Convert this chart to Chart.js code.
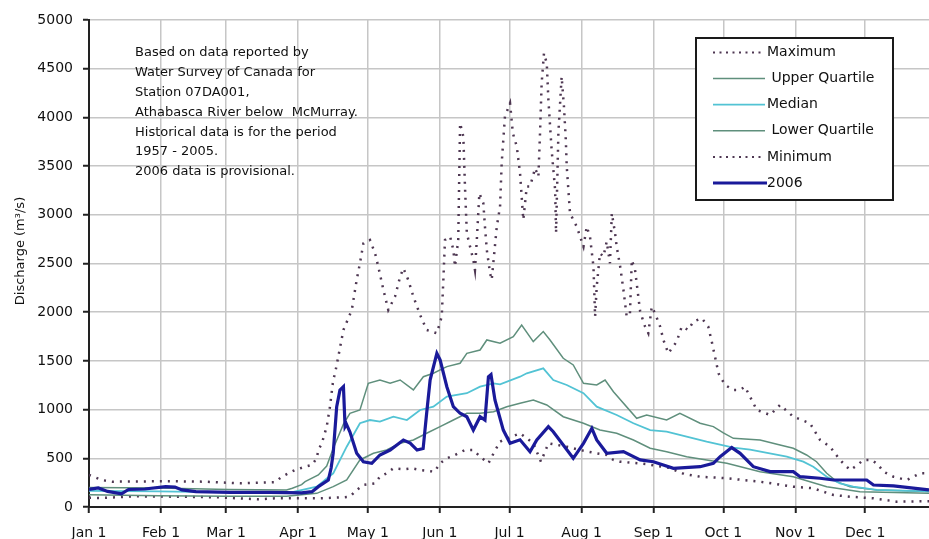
<!DOCTYPE html>
<html>
<head>
<meta charset="utf-8">
<script src="https://cdn.jsdelivr.net/npm/chart.js@4.4.1/dist/chart.umd.min.js"></script>
<style>
html,body{margin:0;padding:0;background:#fff;}
#wrap{width:929px;height:539px;position:relative;}
</style>
</head>
<body>
<div id="wrap"><canvas id="c" width="929" height="539"></canvas></div>
<script>
// ---- Axis ticks (day of year, 0 = Jan 1) ----
const monthStarts = [0,31,59,90,120,151,181,212,243,273,304,334];
const monthLabels = ['Jan 1','Feb 1','Mar 1','Apr 1','May 1','Jun 1','Jul 1','Aug 1','Sep 1','Oct 1','Nov 1','Dec 1'];
const yTitle = 'Discharge (m\u00B3/s)';
const noteLines = [
  'Based on data reported by',
  'Water Survey of Canada for',
  'Station 07DA001,',
  'Athabasca River below  McMurray.',
  'Historical data is for the period',
  '1957 - 2005.',
  '2006 data is provisional.'
];
const seriesNames = ['Maximum','Upper Quartile','Median','Lower Quartile','Minimum','2006'];

// ---- Series: Maximum ----
const maxDays = [0,5.5,10,35,50,65,80,83,85.8,88.7,93,95.9,98,98.7,100.2,102.3,103.7,105.1,105.9,109.5,113.1,115.2,116.6,118.1,120.9,123.1,124.5,126.7,128.8,131.7,133.9,135.3,137.4,139.6,142.5,145.3,149.7,151.8,152.5,153.2,155.4,156.8,157.5,158.9,159.7,161.1,161.8,162.6,164,165.4,166.1,166.9,168,169.7,170.4,171.2,172.6,173.3,175.5,176.9,177.6,179,181.2,182.4,184.1,185.5,186.9,188.4,189.8,192,193.4,194.1,194.8,195.8,197,197.7,199.1,200.6,201,202,203.4,204.4,205.2,205.6,207,209.9,212.8,214.2,215.6,217.1,217.8,218.5,219.9,221.4,222.8,224.2,225,226.4,227.1,228.6,230,231.4,232.8,233.6,235,236.4,237.2,239.3,240.7,242.2,243.6,245.8,247.2,249.3,252.9,255.1,257.9,260.1,263.7,266.5,268,269.4,270.9,273.7,277.3,280.2,282.3,287.4,293.1,297.4,303.1,310.3,314.6,318.9,323.2,327.5,329.7,333.3,336.9,339.7,341.9,346.2,351.9,357.7,361.5];
const maxVals = [330,277,260,265,260,243,255,311,346,380,414,431,500,585,654,825,1030,1304,1373,1818,2023,2331,2503,2708,2742,2605,2468,2229,2023,2160,2365,2451,2331,2160,1972,1818,1784,1955,2331,2742,2776,2639,2468,2742,3941,3803,3290,2811,2673,2537,2434,2742,3222,3119,2879,2639,2400,2331,2879,3084,3529,4009,4146,3838,3701,3427,2948,3290,3290,3478,3392,3838,4351,4659,4556,4180,3666,3255,2814,3838,4419,4111,3769,3495,3016,2879,2673,2879,2776,2468,1955,2262,2605,2571,2725,2503,3016,2811,2673,2468,2229,1955,1989,2537,2434,2160,2006,1852,1784,2057,1989,1852,1715,1578,1698,1852,1818,1903,1938,1852,1698,1544,1373,1253,1202,1202,1235,996,945,1048,927,860,688,619,483,380,414,483,483,431,363,311,277,346,346];

// ---- Series: Upper Quartile ----
const uqDays = [0,30,60,85,87.5,91.5,93,98.7,102.3,105.1,109.5,112.3,116.6,120.2,125.2,129.6,133.9,139.6,143.9,148.2,154,159.7,162.6,168.3,171.2,176.9,182.6,186.2,191.2,195.5,198.4,204.1,208.4,212.8,218.5,222.1,225.7,235.7,240,248.6,254.3,263,268.7,273,277.3,288.8,297.4,303.1,308.8,313.1,317.5,321.8,327.5,339,361.5];
const uqVals = [200,195,180,175,192,230,260,329,420,600,850,962,996,1270,1304,1270,1304,1202,1338,1373,1441,1476,1578,1612,1715,1681,1749,1869,1698,1801,1715,1527,1458,1270,1253,1304,1184,911,945,893,962,860,825,760,705,688,637,603,534,465,346,260,209,175,160];

// ---- Series: Median ----
const medDays = [0,30,60,88,98,105.1,110.9,116.6,120.9,125.2,131,136.8,142.5,148.2,154,162.6,168.3,174.1,176.9,185.5,188.4,195.5,199.8,205.6,212.8,218.5,227.1,234.3,241.5,248.6,257.2,265.8,277.3,284.5,300.3,307.4,311.7,317.5,323.2,328.9,339,361.5];
const medVals = [165,160,150,155,209,346,619,860,893,877,927,893,996,1030,1133,1168,1235,1270,1260,1338,1373,1424,1304,1253,1168,1030,945,860,790,773,722,671,610,590,517,465,414,311,243,209,175,160];

// ---- Series: Lower Quartile ----
const lqDays = [0,30,60,85,98,105.1,110.9,116.6,122.4,128.1,133.9,139.6,145.3,151.1,156.8,162.6,168.3,174.1,179.8,185.5,191.2,197,204.1,212.8,219.9,227.1,234.3,241.5,248.6,257.2,265.8,274.5,288.8,303.1,317.5,331.8,361.5];
const lqVals = [125,115,110,110,140,209,277,483,551,585,654,688,757,825,893,962,962,979,1030,1065,1099,1048,927,860,790,757,688,603,568,517,483,449,363,311,209,157,140];

// ---- Series: Minimum ----
const minDays = [0,5.5,20,37,55,73,80,98.7,109.5,112.3,115.2,118.1,123.1,125.2,128.1,131,135.3,138.9,142.5,148.7,151.1,154,157.5,161.8,165.4,168.3,171.9,174.1,176.9,178.3,185.5,191.2,194.5,197.7,205.6,211.3,218.5,222.8,225.7,228.6,240,250,256,263,274.5,281.6,288.8,303.1,311.7,320.4,327.5,337.6,347.6,361.5];
const minVals = [95,92,110,106,100,79,89,89,99,106,175,226,243,311,346,397,387,397,380,363,449,500,534,585,585,517,449,551,671,688,757,654,465,654,619,585,551,534,483,465,440,400,340,311,295,277,260,209,192,123,106,89,55,60];

// ---- Series: 2006 ----
const y2006Days = [0,4,8,14,17,24,33,37,40,46,61,78,91.5,96,98.7,103,104.2,105.1,106.6,108,109.5,110.2,110.8,112.3,115.2,118.1,121.7,125.2,129.6,135.3,138.2,141.2,143.8,145.3,146.8,149.7,151.1,154,156.8,159.7,162.6,165.4,168.3,170.4,171.9,173,174.7,178.3,181.2,185.5,189.8,192.7,197.7,199.8,208.4,212.8,216.4,218.5,222.8,230,237.2,242.9,251.5,263,268.7,271.6,276.6,280.2,285.9,293.1,303.1,306,314.6,320.4,334.7,337.6,346.2,361.5];
const y2006Vals = [180,195,160,135,180,185,210,205,175,157,150,150,145,157,209,277,400,553,1030,1200,1235,825,850,770,553,465,449,534,585,688,657,585,600,960,1304,1578,1510,1235,1030,962,927,790,927,893,1338,1360,1099,790,654,690,568,688,825,773,500,654,808,688,551,568,483,465,397,414,449,517,610,551,414,363,363,311,295,277,277,226,216,175];

const yTicks = [0,500,1000,1500,2000,2500,3000,3500,4000,4500,5000];

function pts(days, vals){ return days.map((d,i)=>({x:d,y:vals[i]})); }

const COL_DOT = '#4e3752';
const COL_Q = '#5f8f7c';
const COL_MED = '#52c3d4';
const COL_2006 = '#1a1a9a';
const FONT = '"DejaVu Sans", sans-serif';

const styles = [
  {color:COL_DOT, width:2.5, dash:[2,6], legendDash:[2,4.5]},
  {color:COL_Q, width:1.5, dash:[], legendDash:[]},
  {color:COL_MED, width:1.8, dash:[], legendDash:[]},
  {color:COL_Q, width:1.5, dash:[], legendDash:[]},
  {color:COL_DOT, width:2.5, dash:[2,6], legendDash:[2,4.5]},
  {color:COL_2006, width:3.2, dash:[], legendDash:[]}
];
const seriesData = [
  pts(maxDays,maxVals), pts(uqDays,uqVals), pts(medDays,medVals),
  pts(lqDays,lqVals), pts(minDays,minVals), pts(y2006Days,y2006Vals)
];

const datasets = seriesNames.map((n,i)=>({
  label:n,
  data:seriesData[i],
  borderColor:styles[i].color,
  borderWidth:styles[i].width,
  borderDash:styles[i].dash,
  pointRadius:0,
  tension:0,
  fill:false,
  order: n==='2006' ? 0 : (i===2 ? 1 : 2)
}));

const overlay = {
  id:'overlay',
  afterDraw(chart){
    const ctx = chart.ctx;
    // y axis title
    ctx.save();
    ctx.fillStyle = '#111';
    ctx.font = '13px ' + FONT;
    ctx.translate(21, 251);
    ctx.rotate(-Math.PI/2);
    ctx.textAlign = 'center';
    ctx.textBaseline = 'middle';
    ctx.fillText(yTitle, 0, 0);
    ctx.restore();

    // note text
    ctx.save();
    ctx.fillStyle = '#111';
    ctx.font = '13px ' + FONT;
    ctx.textAlign = 'left';
    ctx.textBaseline = 'middle';
    noteLines.forEach((t,i)=>ctx.fillText(t, 135, 53 + i*19.8));
    ctx.restore();

    // legend box
    ctx.save();
    ctx.fillStyle = '#fff';
    ctx.fillRect(696, 38, 197, 162);
    ctx.strokeStyle = '#1a1a1a';
    ctx.lineWidth = 2;
    ctx.strokeRect(696, 38, 197, 162);
    ctx.font = '14px ' + FONT;
    ctx.textBaseline = 'middle';
    ctx.textAlign = 'left';
    seriesNames.forEach((n,i)=>{
      const y = 52.5 + i*26.1;
      const s = styles[i];
      ctx.beginPath();
      ctx.strokeStyle = s.color;
      ctx.lineWidth = s.legendDash.length ? 2 : s.width;
      ctx.setLineDash(s.legendDash);
      ctx.moveTo(713, y);
      ctx.lineTo(i===5 ? 767 : 765, y);
      ctx.stroke();
      ctx.setLineDash([]);
      ctx.fillStyle = '#111';
      const lbl = (n==='Upper Quartile' || n==='Lower Quartile') ? ' ' + n : n;
      ctx.fillText(lbl, 767, y);
    });
    ctx.restore();
  }
};

new Chart(document.getElementById('c'), {
  type:'line',
  data:{datasets},
  plugins:[overlay],
  options:{
    responsive:false,
    animation:false,
    devicePixelRatio:1,
    layout:{padding:{top:20,right:0,bottom:0,left:0}},
    plugins:{legend:{display:false}, tooltip:{enabled:false}, title:{display:false}},
    scales:{
      x:{
        type:'linear',
        min:0, max:361.5,
        afterBuildTicks(s){ s.ticks = monthStarts.map(v=>({value:v})); },
        afterFit(s){ s.height = 32; },
        ticks:{
          autoSkip:false, maxRotation:0, minRotation:0,
          padding:12,
          color:'#111',
          font:{family:FONT, size:14},
          callback:(v,i)=>monthLabels[i]
        },
        grid:{color:'#c6c6c6', lineWidth:1.5, tickLength:6, tickColor:'#222', tickWidth:2},
        border:{display:true, color:'#222', width:2}
      },
      y:{
        type:'linear',
        min:0, max:5000,
        afterBuildTicks(s){ s.ticks = yTicks.map(v=>({value:v})); },
        afterFit(s){ s.width = 89; },
        ticks:{
          padding:10,
          color:'#111',
          font:{family:FONT, size:14},
          callback:(v)=>String(v)
        },
        grid:{color:'#c6c6c6', lineWidth:1.5, tickLength:6, tickColor:'#222', tickWidth:2},
        border:{display:true, color:'#222', width:2}
      }
    }
  }
});
</script>
</body>
</html>
